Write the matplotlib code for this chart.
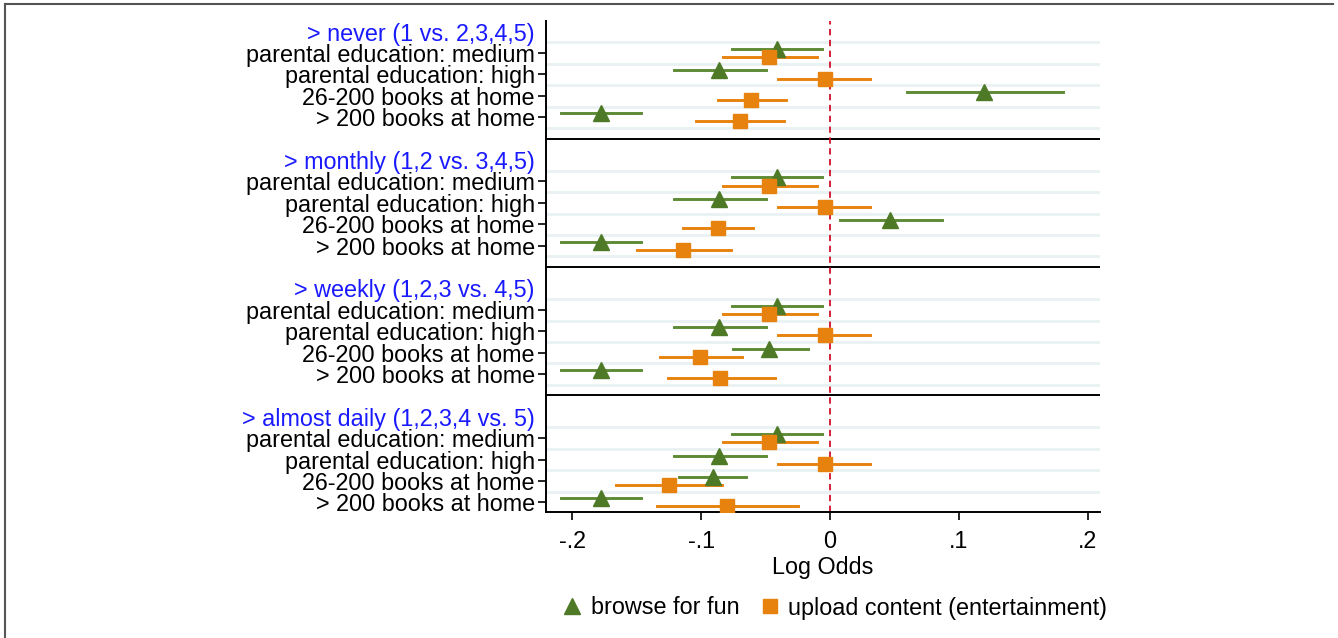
import numpy as np
import matplotlib.pyplot as plt
from matplotlib.lines import Line2D

plt.rcParams['font.family'] = ['Liberation Sans', 'DejaVu Sans']

# ── Data ─────────────────────────────────────────────────────
panels = ['> never (1 vs. 2,3,4,5)', '> monthly (1,2 vs. 3,4,5)',
          '> weekly (1,2,3 vs. 4,5)', '> almost daily (1,2,3,4 vs. 5)']
rows = ['parental education: medium', 'parental education: high',
        '26-200 books at home', '> 200 books at home']

# browse for fun: estimate, lower CI, upper CI (per panel, per row)
browse_est = [[-0.041, -0.086, 0.120, -0.178],
              [-0.041, -0.086, 0.047, -0.178],
              [-0.041, -0.086, -0.047, -0.178],
              [-0.041, -0.086, -0.091, -0.178]]
browse_lo = [[-0.076, -0.121, 0.060, -0.209],
             [-0.076, -0.121, 0.008, -0.209],
             [-0.076, -0.121, -0.075, -0.209],
             [-0.076, -0.121, -0.117, -0.209]]
browse_hi = [[-0.006, -0.050, 0.181, -0.147],
             [-0.006, -0.050, 0.087, -0.147],
             [-0.006, -0.050, -0.017, -0.147],
             [-0.006, -0.050, -0.065, -0.147]]

# upload content (entertainment)
upload_est = [[-0.047, -0.004, -0.061, -0.070],
              [-0.047, -0.004, -0.087, -0.114],
              [-0.047, -0.004, -0.101, -0.085],
              [-0.047, -0.004, -0.125, -0.080]]
upload_lo = [[-0.083, -0.040, -0.087, -0.104],
             [-0.083, -0.040, -0.114, -0.150],
             [-0.083, -0.040, -0.132, -0.126],
             [-0.083, -0.040, -0.166, -0.134]]
upload_hi = [[-0.010, 0.031, -0.034, -0.036],
             [-0.010, 0.031, -0.060, -0.077],
             [-0.010, 0.031, -0.068, -0.043],
             [-0.010, 0.031, -0.084, -0.025]]

xticks = [-0.2, -0.1, 0, 0.1, 0.2]
xticklabels = ['-.2', '-.1', '0', '.1', '.2']

GREEN = '#4E7A27'
GREEN_L = '#5E8A35'
ORANGE = '#E8820E'
BLUE = '#1A1AFF'
FS = 16.8

fig = plt.figure(figsize=(13.38, 6.38), dpi=100)
ax = fig.add_axes([546 / 1338, 1 - 512 / 638, 554 / 1338, (512 - 21) / 638])

ypos, ylabels = [], []
for p in range(len(panels)):
    base = 6 * p
    # light row separators
    for g in range(5):
        ax.axhline(base + 0.5 + g, color='#E9F1F3', lw=2, zorder=0)
    if p > 0:
        ax.axhline(base - 1, color='black', lw=1.4, zorder=1)
    ax.text(-0.02, base + 0.12, panels[p], color=BLUE, fontsize=FS,
            ha='right', va='center', transform=ax.get_yaxis_transform())
    for r in range(len(rows)):
        y = base + 1 + r
        ypos.append(y)
        ylabels.append(rows[r])
        yb = y - 0.19
        yu = y + 0.19
        ax.plot([browse_lo[p][r], browse_hi[p][r]], [yb, yb], color=GREEN_L, lw=2.1, zorder=2)
        ax.plot(browse_est[p][r], yb, marker='^', color=GREEN, ms=11, mec=GREEN, zorder=3)
        ax.plot([upload_lo[p][r], upload_hi[p][r]], [yu, yu], color=ORANGE, lw=2.1, zorder=2)
        ax.plot(upload_est[p][r], yu, marker='s', color=ORANGE, ms=10, mec=ORANGE, zorder=3)

ax.axvline(0, color='#D0102A', lw=1.3, ls=(0, (3.5, 2.5)), zorder=1)

ax.set_xlim(-0.2205, 0.2097)
ax.set_ylim(22.45, -0.5)
ax.set_yticks(ypos)
ax.set_yticklabels(ylabels, fontsize=FS)
ax.set_xticks(xticks)
ax.set_xticklabels(xticklabels, fontsize=FS)
ax.tick_params(axis='y', length=6, width=1.2, pad=2)
ax.tick_params(axis='x', length=6, width=1.2, pad=7)
ax.set_xlabel('Log Odds', fontsize=FS, labelpad=2)

for s in ['top', 'right']:
    ax.spines[s].set_visible(False)
for s in ['left', 'bottom']:
    ax.spines[s].set_linewidth(1.4)

handles = [Line2D([], [], marker='^', ls='none', color=GREEN, ms=11),
           Line2D([], [], marker='s', ls='none', color=ORANGE, ms=10)]
fig.legend(handles, ['browse for fun', 'upload content (entertainment)'],
           loc='center', bbox_to_anchor=(834 / 1338, 1 - 608 / 638), ncol=2,
           frameon=False, fontsize=FS, handletextpad=0.3, columnspacing=0.8,
           handlelength=1.0)

# outer frame (top and left edges only)
fig.add_artist(Line2D([5 / 1338, 1333 / 1338], [1 - 4 / 638, 1 - 4 / 638],
                      color='#555555', lw=1.5, transform=fig.transFigure))
fig.add_artist(Line2D([5 / 1338, 5 / 1338], [0, 1 - 4 / 638],
                      color='#555555', lw=1.5, transform=fig.transFigure))

fig.savefig('out.png', dpi=100)
